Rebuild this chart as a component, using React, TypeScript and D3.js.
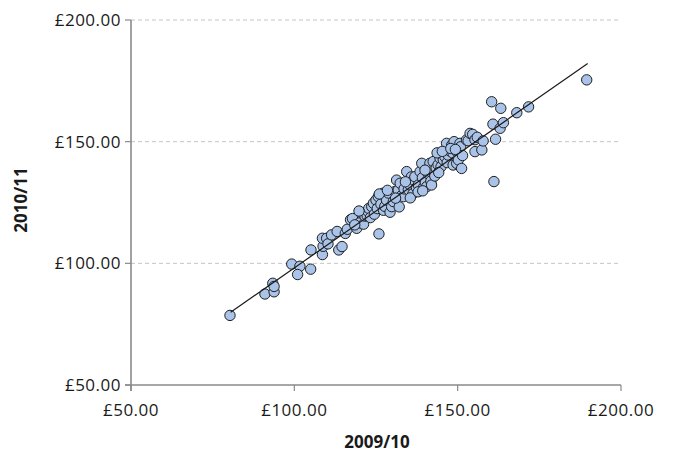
import React from "react";
import * as d3 from "d3";

const xValues2009: number[] = [
  80.3, 91.0, 93.8, 93.4, 93.8, 99.2, 101.7, 101.0, 105.0, 105.1, 108.6, 108.8, 108.6, 109.9, 110.3,
  111.4, 113.1, 113.6, 114.6, 115.6, 116.2, 117.2, 117.8, 119.1, 120.0, 120.6, 121.2, 121.6, 122.3,
  122.6, 122.8, 123.3, 123.7, 124.2, 124.5, 125.0, 125.4, 125.9, 125.7, 126.5, 127.2, 127.3, 127.7,
  128.2, 128.8, 129.3, 129.8, 130.3, 130.8, 131.3, 131.8, 132.1, 132.4, 132.9, 133.4, 133.6, 134.4,
  134.9, 135.4, 135.8, 136.3, 136.5, 136.9, 137.4, 138.0, 138.5, 139.0, 139.2, 139.6, 140.1, 140.5,
  141.0, 141.5, 141.8, 142.0, 142.3, 142.5, 143.0, 143.4, 144.0, 144.6, 144.9, 145.6, 146.1, 146.6,
  146.8, 147.1, 147.6, 148.2, 148.6, 148.6, 148.9, 149.7, 149.8, 150.2, 150.7, 150.9, 151.2, 151.5,
  152.7, 153.2, 153.8, 154.6, 155.3, 155.3, 156.0, 157.4, 157.8, 160.4, 160.8, 161.1, 161.6, 163.0,
  163.2, 164.0, 168.1, 171.7, 189.5,
  118.5, 119.8, 126.0, 128.5, 131.0, 134.0, 135.5, 137.9, 140.0, 143.7, 145.3, 147.9, 149.3, 144.2, 139.3,
];
const yValues2010: number[] = [
  78.6, 87.4, 88.3, 91.8, 90.5, 99.7, 98.8, 95.4, 97.6, 105.5, 103.6, 107.0, 110.3, 110.3, 108.0,
  111.7, 113.1, 105.5, 106.9, 112.3, 114.0, 117.9, 118.4, 114.4, 116.6, 120.7, 116.1, 119.4, 119.6,
  121.3, 122.6, 118.8, 123.3, 124.7, 120.2, 126.0, 122.5, 112.1, 127.4, 124.3, 128.8, 121.8, 123.4,
  126.0, 128.9, 121.0, 123.3, 125.4, 129.5, 134.2, 130.1, 123.2, 132.9, 127.9, 127.4, 130.6, 137.7,
  130.3, 132.2, 135.5, 128.6, 134.3, 135.6, 131.1, 132.2, 137.7, 141.1, 135.2, 131.3, 133.3, 131.5,
  136.8, 141.1, 133.8, 132.2, 138.4, 141.8, 135.9, 139.2, 140.5, 143.2, 139.7, 142.5, 143.8, 149.3,
  141.4, 144.5, 146.2, 148.6, 145.2, 140.4, 150.0, 141.1, 145.9, 142.5, 149.3, 147.9, 139.0, 144.3,
  150.7, 150.4, 153.4, 153.0, 150.8, 145.9, 151.8, 146.6, 150.3, 166.4, 157.2, 133.6, 151.0, 155.5,
  163.7, 157.8, 161.9, 164.3, 175.4,
  115.8, 121.5, 128.5, 130.0, 126.8, 133.5, 126.9, 129.4, 138.3, 145.4, 146.0, 147.2, 146.8, 137.3, 129.8,
];
const fitLineX: number[] = [80.5, 189.8];
const fitLineY: number[] = [79.9, 182.1];
const tickValues: number[] = [50, 100, 150, 200];
const gridValues: number[] = [100, 150, 200];
const xTitle = "2009/10";
const yTitle = "2010/11";

const fmt = (v: number) => "£" + v.toFixed(2);

export default function App() {
  const x = d3.scaleLinear().domain([50, 200]).range([131, 621]);
  const y = d3.scaleLinear().domain([50, 200]).range([385, 20]);
  const points = xValues2009.map((v, i) => ({ x: v, y: yValues2010[i] }));
  const line = d3
    .line<number>()
    .x((d) => x(d))
    .y((_, i) => y(fitLineY[i]));
  const font = "'Open Sans', 'Noto Sans', sans-serif";
  const axisColor = "#8a8a8a";
  return (
    <svg
      width={673}
      height={456}
      style={{ position: "absolute", left: 0, top: 0, background: "#fff" }}
      fontFamily={font}
    >
      {gridValues.map((g) => (
        <line
          key={"g" + g}
          x1={x(50)}
          x2={x(200)}
          y1={y(g)}
          y2={y(g)}
          stroke="#c4c4c4"
          strokeWidth={1}
          strokeDasharray="4,3"
        />
      ))}
      <line x1={x(50)} x2={x(50)} y1={y(200)} y2={y(50) + 6} stroke={axisColor} strokeWidth={1.6} />
      <line x1={x(50) - 6} x2={x(200)} y1={y(50)} y2={y(50)} stroke={axisColor} strokeWidth={1.6} />
      {tickValues.map((t) => (
        <g key={"yt" + t}>
          <line x1={x(50) - 6} x2={x(50)} y1={y(t)} y2={y(t)} stroke={axisColor} strokeWidth={1.2} />
          <text
            x={x(50) - 10}
            y={y(t)}
            dy="0.36em"
            textAnchor="end"
            fontSize={17}
            letterSpacing={0.5}
            fill="#1a1a1a"
          >
            {fmt(t)}
          </text>
        </g>
      ))}
      {tickValues.map((t) => (
        <g key={"xt" + t}>
          <line x1={x(t)} x2={x(t)} y1={y(50)} y2={y(50) + 6} stroke={axisColor} strokeWidth={1.2} />
          <text
            x={x(t)}
            y={y(50) + 31}
            textAnchor="middle"
            fontSize={17}
            letterSpacing={0.5}
            fill="#1a1a1a"
          >
            {fmt(t)}
          </text>
        </g>
      ))}
      {points.map((p, i) => (
        <circle
          key={"p" + i}
          cx={x(p.x)}
          cy={y(p.y)}
          r={5.2}
          fill="#a9c3e9"
          stroke="#1f1f1f"
          strokeWidth={1}
        />
      ))}
      <path d={line(fitLineX) || ""} fill="none" stroke="#1a1a1a" strokeWidth={1.2} />
      <text
        x={377}
        y={448}
        textAnchor="middle"
        fontSize={17}
        fontWeight="bold"
        fill="#1a1a1a"
      >
        {xTitle}
      </text>
      <text
        transform={`translate(27,${200}) rotate(-90)`}
        textAnchor="middle"
        fontSize={17}
        fontWeight="bold"
        fill="#1a1a1a"
      >
        {yTitle}
      </text>
    </svg>
  );
}
